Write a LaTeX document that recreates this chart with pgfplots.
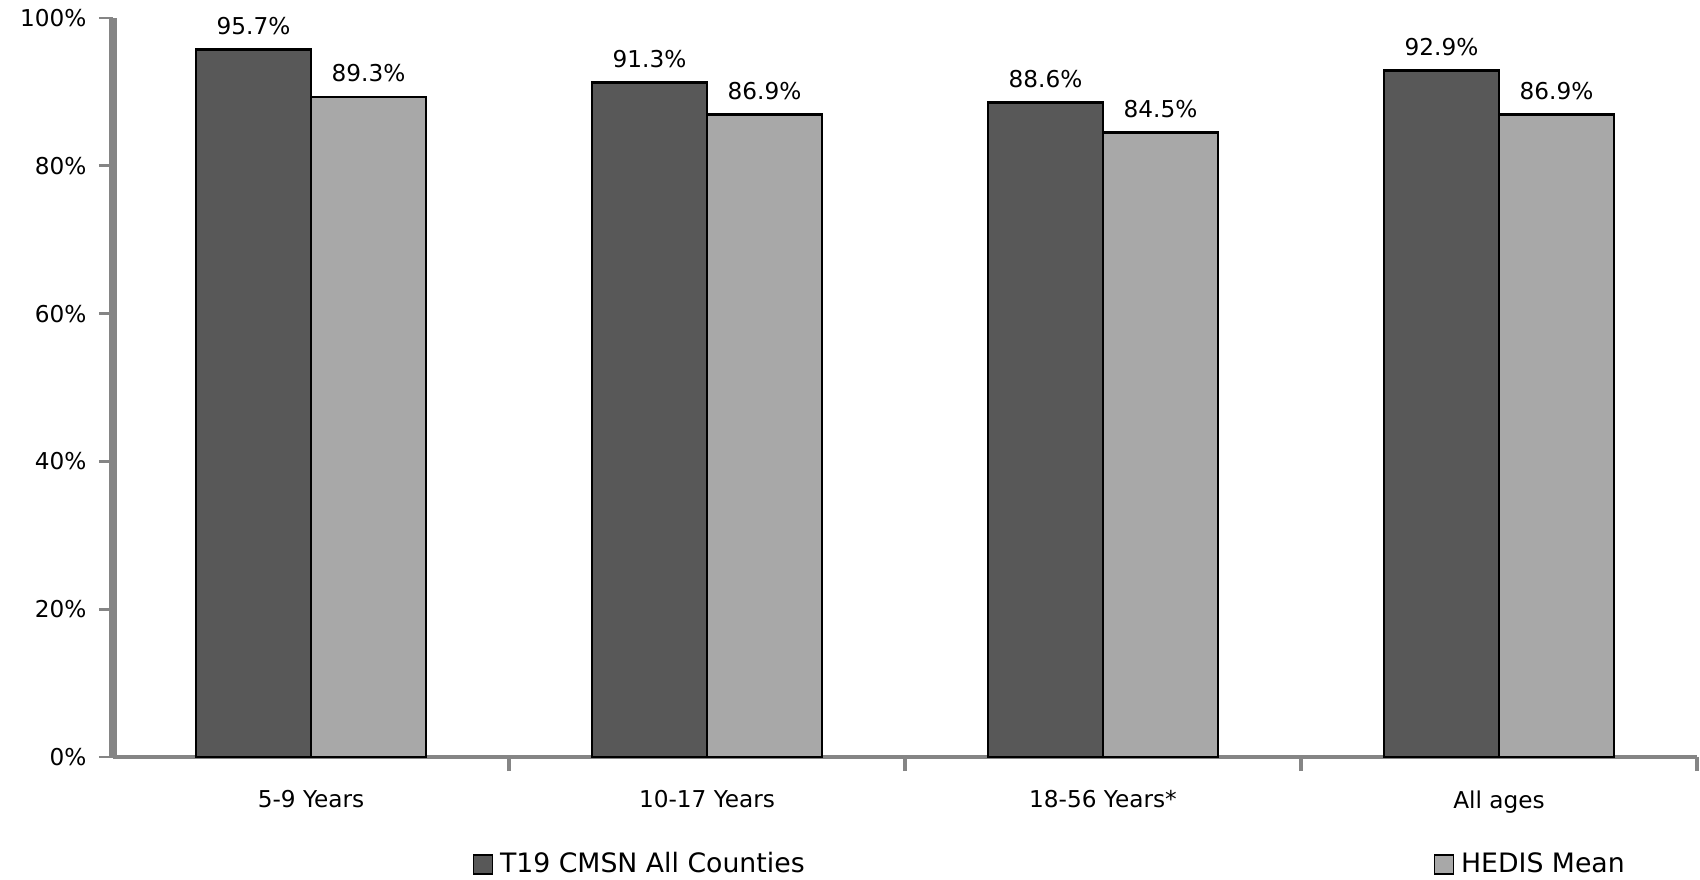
\documentclass[border=0pt]{standalone}
\usepackage{pgfplots}
\pgfplotsset{compat=1.18}
\usepackage{fontspec}
\setmainfont{DejaVu Sans}

\definecolor{barDark}{HTML}{585858}
\definecolor{barLight}{HTML}{A8A8A8}
\definecolor{axisGray}{HTML}{858585}

\pgfplotstableread{
x cmsn hedis
0 95.7 89.3
1 91.3 86.9
2 88.6 84.5
3 92.9 86.9
}\ratetable

\begin{document}
\begin{tikzpicture}
\useasboundingbox (-1.13,-1.22) rectangle (15.87,7.57);
\begin{axis}[
  at={(0,0)}, anchor=south west,
  scale only axis,
  width=15.84cm, height=7.39cm,
  ybar=0pt,
  bar width=1.15cm,
  xmin=-0.5, xmax=3.5,
  ymin=0, ymax=100,
  axis x line*=bottom,
  axis y line*=left,
  x axis line style={draw=axisGray, line width=1pt},
  y axis line style={draw=axisGray, line width=2.2pt},
  xtick={0,1,2,3},
  xticklabels={5-9 Years,10-17 Years,18-56 Years*,All ages},
  major x tick style={draw=none},
  minor xtick={0.5,1.5,2.5,3.5},
  minor x tick style={draw=axisGray, line width=1pt},
  minor tick length=4pt,
  ytick={0,20,40,60,80,100},
  yticklabel={\pgfmathprintnumber{\tick}\%},
  y tick style={draw=axisGray, line width=0.8pt},
  major tick length=4pt,
  tick align=outside,
  /pgf/number format/assume math mode=true,
  tick label style={font=\fontsize{6.6}{7.5}\selectfont},
  xticklabel style={yshift=-2pt},
  yticklabel style={xshift=0pt},
  nodes near coords={\pgfmathprintnumber[fixed,precision=1,fixed zerofill]{\pgfplotspointmeta}\%},
  every node near coord/.append style={font=\fontsize{6.6}{7.5}\selectfont, yshift=0.5pt, /pgf/number format/assume math mode=true},
  legend columns=2,
  legend style={
    at={(0.2266,-0.146)}, anchor=west,
    draw=none, fill=none, inner sep=0pt,
    font=\fontsize{7.6}{8.7}\selectfont,
    /tikz/every even column/.append style={column sep=6.22cm},
  },
  legend image code/.code={\draw[#1, draw=black, line width=0.4pt] (0cm,-0.09cm) rectangle (0.19cm,0.10cm);},
  clip=false,
]
\addplot[fill=barDark, draw=black, line width=0.8pt] table[x=x, y=cmsn] {\ratetable};
\addlegendentry{T19 CMSN All Counties}
\addplot[fill=barLight, draw=black, line width=0.8pt] table[x=x, y=hedis] {\ratetable};
\addlegendentry{HEDIS Mean}
\end{axis}
\end{tikzpicture}
\end{document}
